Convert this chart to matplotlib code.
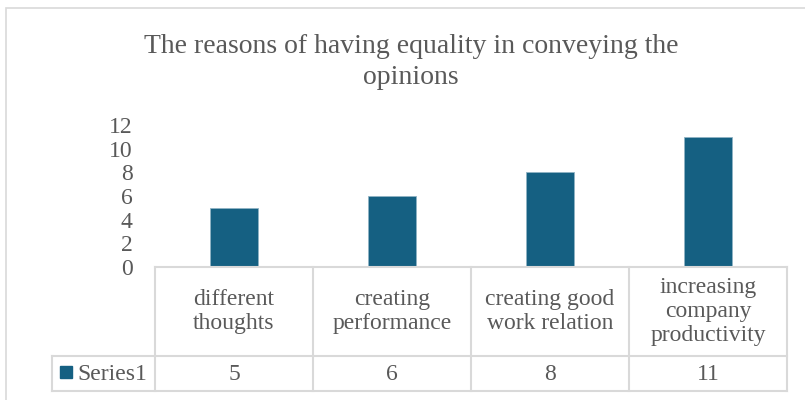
import matplotlib
matplotlib.use("Agg")
import matplotlib.pyplot as plt
from matplotlib.patches import Rectangle
from matplotlib.lines import Line2D

categories = ["different\nthoughts", "creating\nperformance", "creating good\nwork relation",
              "increasing\ncompany\nproductivity"]
values = [5, 6, 8, 11]
series_name = "Series1"
title = "The reasons of having equality in conveying the\nopinions"
yticks = [0, 2, 4, 6, 8, 10, 12]

W, H = 805, 400
BAR = "#156082"
TXT = "#595959"
GRID = "#D9D9D9"
FONT = "Liberation Serif"
FS = 17

fig = plt.figure(figsize=(W / 100, H / 100), dpi=100)

def fx(px):
    return px / W

def fy(py):
    return 1 - py / H

# outer chart border
fig.add_artist(Rectangle((fx(6), fy(402)), fx(810) - fx(6), fy(8) - fy(402),
                         transform=fig.transFigure, fill=False, edgecolor=GRID, lw=1.2))

left, right, top0, bot0 = 155, 787, 125, 267
ax = fig.add_axes([fx(left), fy(bot0), fx(right) - fx(left), fy(top0) - fy(bot0)])
x = list(range(len(values)))
ax.bar(x, values, width=0.31, color=BAR, edgecolor="#8FB3C4", linewidth=0.6)
ax.set_xlim(-0.5, len(values) - 0.5)
ax.set_ylim(0, 12)
ax.set_yticks(yticks)
ax.set_yticklabels([str(t) for t in yticks], fontfamily=FONT, fontsize=FS, color=TXT)
ax.tick_params(axis="y", length=0, pad=16)
ax.tick_params(axis="x", length=0, labelbottom=False)
for s in ax.spines.values():
    s.set_visible(False)
ax.patch.set_alpha(0)

fig.text(fx(411), fy(62), title, ha="center", va="center", fontfamily=FONT,
         fontsize=20, color=TXT, linespacing=1.32)

# data table
row1, row2, row3 = 267, 356, 391
legend_left = 52
col_w = (right - left) / len(values)

def hline(py, x0, x1):
    fig.add_artist(Line2D([fx(x0), fx(x1)], [fy(py), fy(py)], transform=fig.transFigure,
                          color=GRID, lw=1.5))

def vline(px, y0, y1):
    fig.add_artist(Line2D([fx(px), fx(px)], [fy(y0), fy(y1)], transform=fig.transFigure,
                          color=GRID, lw=1.5))

hline(row1, left, right)
hline(row2, legend_left, right)
hline(row3, legend_left, right)
vline(legend_left, row2, row3)
for i in range(len(values) + 1):
    vline(left + i * col_w, row1, row3)

for i, (c, v) in enumerate(zip(categories, values)):
    cx = left + (i + 0.5) * col_w
    fig.text(fx(cx), fy((row1 + row2) / 2), c, ha="center", va="center", fontfamily=FONT,
             fontsize=FS, color=TXT, linespacing=1.2)
    fig.text(fx(cx), fy((row2 + row3) / 2 + 1), str(v), ha="center", va="center",
             fontfamily=FONT, fontsize=FS, color=TXT)

fig.add_artist(Rectangle((fx(60), fy(378)), fx(12), 12 / H, transform=fig.transFigure,
                         color=BAR))
fig.text(fx(77), fy((row2 + row3) / 2 + 1), series_name, ha="left", va="center",
         fontfamily=FONT, fontsize=FS, color=TXT)

fig.savefig("out.png", dpi=100)
